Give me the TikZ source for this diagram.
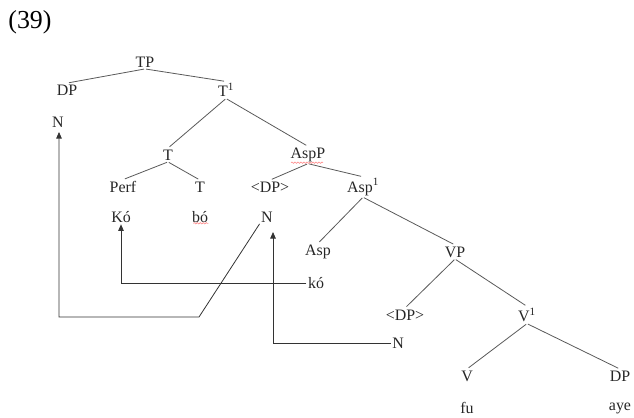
\documentclass[tikz,border=0pt]{standalone}
\usepackage{fontspec}
\setmainfont{Liberation Serif}
\usetikzlibrary{arrows.meta,decorations.pathmorphing}
\begin{document}
\begin{tikzpicture}[x=1bp,y=-1bp,
  lab/.style={inner sep=1.5bp, font=\fontsize{16}{18}\selectfont, text=black!85},
  br/.style={draw=black!65, line width=0.8bp, shorten <=1bp, shorten >=2bp},
  mv/.style={draw=black!80, line width=0.8bp, -{Triangle[length=6.5bp,width=5.5bp]}},
  squig/.style={draw=red!45, line width=0.6bp, decorate, decoration={snake, amplitude=0.7bp, segment length=3bp}}]
\useasboundingbox (0,0) rectangle (634,417);
% title
\node[inner sep=0, font=\fontsize{26}{30}\selectfont] (num) at (30,22) {(39)};
% tree nodes
\node[lab] (TP) at (145,62) {TP};
\node[lab] (DPa) at (67,90) {DP};
\node[lab] (Tb) at (226,90) {T\textsuperscript{1}};
\node[lab] (Na) at (58,122) {N};
\node[lab] (T) at (168,155) {T};
\node[lab] (AspP) at (308,155) {AspP};
\node[lab] (Perf) at (123,187) {Perf};
\node[lab] (Tc) at (200,187) {T};
\node[lab] (DPb) at (270,187) {<DP>};
\node[lab] (Aspb) at (363,187) {Asp\textsuperscript{1}};
\node[lab] (Ko) at (121,217) {Kó};
\node[lab] (bo) at (200,217) {bó};
\node[lab] (Nb) at (267,217) {N};
\node[lab] (Asp) at (318,252) {Asp};
\node[lab] (VP) at (455,252) {VP};
\node[lab] (ko) at (316,283) {kó};
\node[lab] (DPc) at (405,315) {<DP>};
\node[lab] (Vb) at (527,315) {V\textsuperscript{1}};
\node[lab] (Nc) at (398,343) {N};
\node[lab] (V) at (467,376) {V};
\node[lab] (DPd) at (620,376) {DP};
\node[lab] (fu) at (467,408) {fu};
\node[lab] (aye) at (620,408) {aye};
% spell-check squiggles
\draw[squig] (AspP.south west) ++(2,-1) -- ++(32,0);
\draw[squig] (bo.south west) ++(3,-1) -- ++(15,0);
% branches
\draw[br] (TP.south) -- (DPa.north);
\draw[br] (TP.south) -- (Tb.north);
\draw[br] (Tb.south) -- (T.north);
\draw[br] (Tb.south) -- (AspP.north);
\draw[br] (T.south) -- (Perf.north);
\draw[br] (T.south) -- (Tc.north);
\draw[br] (AspP.south) -- (DPb.north);
\draw[br] (AspP.south) -- (Aspb.north);
\draw[br] (Aspb.south) -- (Asp.north);
\draw[br] (Aspb.south) -- (VP.north);
\draw[br] (VP.south) -- (DPc.north);
\draw[br] (VP.south) -- (Vb.north);
\draw[br] (Vb.south) -- (V.north);
\draw[br] (Vb.south) -- (DPd.north);
% movement lines
\coordinate (bend1) at (199,317);
\coordinate (tipA) at (59,132);
\coordinate (tipN) at (273,232);
\draw[mv] (Nb.south west) -- (bend1) -- (bend1 -| tipA) -- (tipA);
\draw[mv] (ko.west) -- (ko.west -| Ko) -- (Ko.south);
\draw[mv] (Nc.west) -- (Nc.west -| tipN) -- (tipN);
\end{tikzpicture}
\end{document}
